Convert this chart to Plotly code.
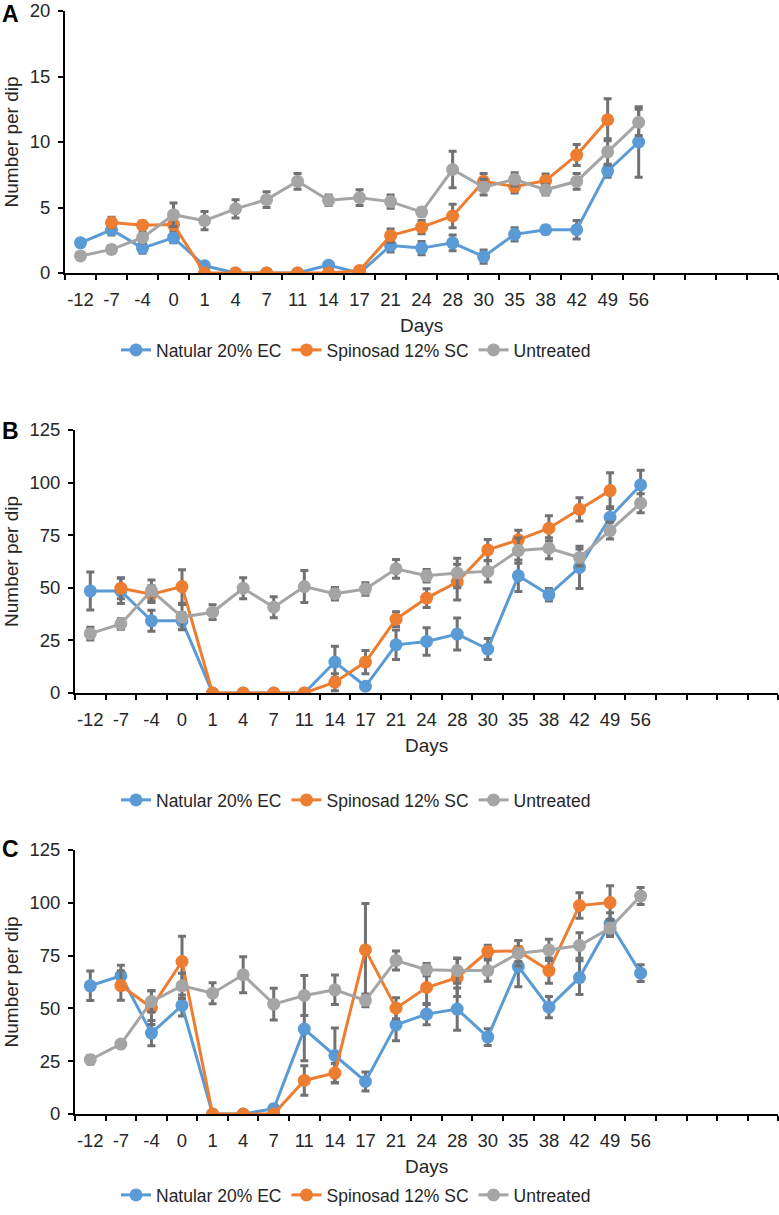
import plotly.graph_objects as go

days = ["-12", "-7", "-4", "0", "1", "4", "7", "11", "14", "17", "21",
        "24", "28", "30", "35", "38", "42", "49", "56"]
# four empty slots to the right of the last day, as in the original axis
blank_slots = [" ", "  ", "   ", "    "]

# panel A
natular_a = [2.3, 3.3, 1.9, 2.7, 0.55, 0, 0, 0, 0.6, 0, 2.1, 1.9, 2.3, 1.25, 2.95, 3.3, 3.3, 7.8, 10.0]
natular_a_err = [0.2, 0.4, 0.4, 0.4, 0.2, 0.05, 0.05, 0.05, 0.2, 0.05, 0.5, 0.5, 0.6, 0.5, 0.5, 0.3, 0.7, 0.5, 2.7]
spinosad_a = [None, 3.85, 3.65, 3.7, 0, 0, 0, 0, 0, 0.2, 2.85, 3.5, 4.35, 7.0, 6.6, 7.05, 9.0, 11.7, None]
spinosad_a_err = [0, 0.4, 0.3, 0.4, 0.05, 0.05, 0.05, 0.05, 0.05, 0.1, 0.5, 0.5, 0.9, 0.6, 0.5, 0.5, 0.8, 1.6, 0]
untreated_a = [1.3, 1.8, 2.7, 4.45, 4.0, 4.9, 5.6, 7.0, 5.55, 5.75, 5.45, 4.65, 7.9, 6.55, 7.15, 6.35, 7.0, 9.25, 11.5]
untreated_a_err = [0.2, 0.3, 0.4, 0.9, 0.7, 0.7, 0.6, 0.6, 0.4, 0.6, 0.5, 0.3, 1.4, 0.6, 0.5, 0.4, 0.6, 1.0, 1.0]

# panel B
natular_b = [48.5, 48.5, 34.3, 34.3, 0, 0, 0, 0, 14.7, 3.2, 22.9, 24.5, 28.0, 20.9, 55.7, 46.7, 59.7, 83.5, 98.9]
natular_b_err = [9, 6, 5, 4, 0.5, 0.5, 0.5, 0.5, 7.5, 1, 7, 6.5, 7.6, 5, 7.5, 3, 10, 5, 7]
spinosad_b = [None, 49.8, 47.0, 50.6, 0, 0, 0, 0, 5.1, 14.7, 35.1, 45.1, 52.7, 68.0, 72.8, 78.3, 87.3, 96.2, None]
spinosad_b_err = [0, 5, 4, 8, 0.5, 0.5, 0.5, 0.5, 4, 5.5, 3.5, 4.5, 8.5, 5, 4.5, 6, 5.5, 8.5, 0]
untreated_b = [28.2, 32.8, 48.7, 36.1, 38.4, 49.8, 40.8, 50.6, 47.2, 49.4, 59.0, 55.7, 57.0, 57.8, 67.7, 68.8, 64.4, 77.2, 90.2]
untreated_b_err = [3, 2.5, 5, 6, 3.5, 5, 5, 7.6, 3, 3, 4.5, 3, 7, 5, 6, 5, 4, 4, 4.5]

# panel C
natular_c = [60.7, 65.4, 38.3, 51.4, 0, 0, 2.5, 40.2, 27.7, 15.4, 42.2, 47.3, 49.7, 36.4, 69.8, 50.6, 64.6, 90.3, 66.7]
natular_c_err = [7, 5, 6, 5, 0.3, 0.3, 1, 15, 13, 4.5, 7.5, 5, 10, 4, 9.5, 5, 8, 5, 4]
spinosad_c = [None, 60.8, 50.4, 72.2, 0, 0, 0, 15.9, 19.4, 77.7, 50.1, 59.9, 64.6, 76.9, 77.2, 67.9, 98.7, 100.1, None]
spinosad_c_err = [0, 7, 8, 12, 0.3, 0.3, 0.3, 7, 4.5, 22, 5, 8, 9, 3, 5, 6, 6, 8, 0]
untreated_c = [25.7, 33.1, 53.3, 60.7, 57.2, 65.9, 52.0, 56.1, 58.8, 53.8, 72.7, 68.3, 67.9, 67.9, 76.1, 77.7, 79.8, 88.0, 103.2]
untreated_c_err = [2, 1.5, 5, 6, 5, 8.5, 7.5, 9.5, 7, 3, 4.5, 3, 6, 5, 6, 5, 6, 4, 4]

series_names = ["Natular 20% EC", "Spinosad 12% SC", "Untreated"]
colors = ["#5B9BD5", "#ED7D31", "#A5A5A5"]
err_color = "#717275"
font = "Liberation Sans, Arial, sans-serif"
text_color = "#262626"

W, H = 779, 1215

# pixel boxes of each panel (plot area, legend and letter centres)
panels = [
    dict(letter="A", ymax=20, dtick=5, x0=65, top=11, bottom=273, legend_y=350, letter_y=14,
         data=[(natular_a, natular_a_err), (spinosad_a, spinosad_a_err), (untreated_a, untreated_a_err)]),
    dict(letter="B", ymax=125, dtick=25, x0=75, top=430, bottom=693, legend_y=800, letter_y=431,
         data=[(natular_b, natular_b_err), (spinosad_b, spinosad_b_err), (untreated_b, untreated_b_err)]),
    dict(letter="C", ymax=125, dtick=25, x0=75, top=850, bottom=1114, legend_y=1195, letter_y=849,
         data=[(natular_c, natular_c_err), (spinosad_c, spinosad_c_err), (untreated_c, untreated_c_err)]),
]

fig = go.Figure()
layout = dict(
    width=W, height=H,
    margin=dict(l=0, r=0, t=0, b=0),
    plot_bgcolor="white", paper_bgcolor="white",
    font=dict(family=font, size=18, color=text_color),
    annotations=[],
)

for i, p in enumerate(panels):
    n = "" if i == 0 else str(i + 1)
    leg = "legend" + n
    for (vals, errs), name, col in zip(p["data"], series_names, colors):
        fig.add_trace(go.Scatter(
            x=days, y=vals, name=name, mode="lines+markers",
            line=dict(color=col, width=3),
            marker=dict(color=col, size=13),
            error_y=dict(type="data", array=errs, visible=True,
                         color=err_color, thickness=3, width=4),
            xaxis="x" + n, yaxis="y" + n, legend=leg,
        ))

    axis_common = dict(showline=True, linecolor="black", linewidth=2,
                       ticks="outside", ticklen=5, tickwidth=2, tickcolor="black",
                       showgrid=False, zeroline=False, automargin=False,
                       ticklabeloverflow="allow",
                       tickfont=dict(size=18.5, color=text_color))
    layout["xaxis" + n] = dict(
        axis_common, type="category",
        categoryorder="array", categoryarray=days + blank_slots,
        range=[-0.5, len(days) + len(blank_slots) - 0.5],
        tickson="boundaries", tickangle=0, ticklabelstandoff=9,
        domain=[p["x0"] / W, 0.999],
        anchor="y" + n,
        title=dict(text="Days", standoff=9, font=dict(size=19)),
    )
    layout["yaxis" + n] = dict(
        axis_common, range=[0, p["ymax"]], dtick=p["dtick"],
        ticklabelstandoff=4,
        domain=[1 - p["bottom"] / H, 1 - p["top"] / H],
        anchor="x" + n,
        title=dict(text="Number per dip", standoff=6, font=dict(size=19)),
    )
    layout[leg] = dict(
        orientation="h", x=0.457, xanchor="center",
        y=1 - p["legend_y"] / H, yanchor="middle",
        font=dict(size=17.5, color=text_color), bgcolor="rgba(0,0,0,0)",
    )
    layout["annotations"].append(dict(
        text="<b>%s</b>" % p["letter"], xref="paper", yref="paper",
        x=0, xanchor="left", y=1 - p["letter_y"] / H, yanchor="middle",
        showarrow=False, font=dict(size=23, color="black"),
    ))

fig.update_layout(**layout)
# the page body has a default 8px margin; drop it so the figure sits at 0,0
fig.write_html("out.html", config={"displayModeBar": False},
               post_script="document.body.style.margin='0px';")
